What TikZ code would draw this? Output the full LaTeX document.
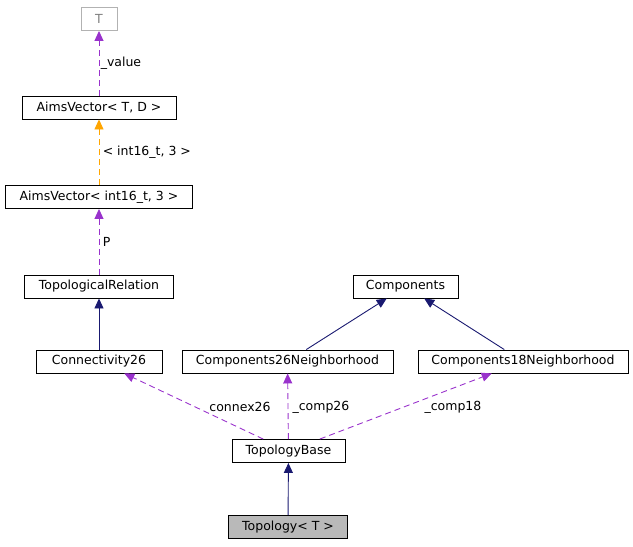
\documentclass[tikz,border=0pt]{standalone}
\usepackage{fontspec}
\setmainfont{DejaVu Sans}
\usetikzlibrary{arrows.meta}
\definecolor{navy}{RGB}{25,25,112}
\definecolor{purp}{RGB}{153,50,204}
\definecolor{orng}{RGB}{255,165,0}
\begin{document}
\begin{tikzpicture}[x=1pt,y=-1pt,line width=0.9pt,
  box/.style={draw=black,fill=white,minimum height=23pt,inner xsep=4pt,font=\fontsize{12.5}{14}\selectfont},
  lbl/.style={font=\fontsize{12.5}{14}\selectfont},
  dsh/.style={dash pattern=on 6pt off 4pt},
  inh/.style={draw=navy,-{Triangle[length=10pt,width=9pt]}},
  use/.style={draw=purp,dsh,-{Triangle[length=10pt,width=9pt]}},
  tpl/.style={draw=orng,dsh,-{Triangle[length=10pt,width=9pt]}}]
\useasboundingbox (0,0) rectangle (633,547);
\node[box,draw=gray!60,text=gray,minimum width=36pt] (T) at (99,19) {T};
\node[box,minimum width=154pt] (AVTD) at (99,107.5) {AimsVector< T, D >};
\node[box,minimum width=187pt] (AVI) at (99,197) {AimsVector< int16\_t, 3 >};
\node[box,minimum width=149pt] (TR) at (99,286.5) {TopologicalRelation};
\node[box,minimum width=105pt] (C) at (405.5,286.5) {Components};
\node[box,minimum width=126pt] (C26) at (99,361.5) {Connectivity26};
\node[box,minimum width=211pt] (CN26) at (287.5,361.5) {Components26Neighborhood};
\node[box,minimum width=210pt] (CN18) at (523,361.5) {Components18Neighborhood};
\node[box,minimum width=113pt] (TB) at (288.5,451) {TopologyBase};
\node[box,fill=gray!55,minimum width=119pt] (TP) at (288,527) {Topology< T >};
\draw[use] (AVTD) -- (T) node[lbl,midway,right,xshift=-2pt] {\_value};
\draw[tpl] (AVI) -- (AVTD) node[lbl,midway,right] {< int16\_t, 3 >};
\draw[use] (TR) -- (AVI) node[lbl,midway,right] {P};
\draw[inh] (C26) -- (TR);
\draw[inh] (CN26) -- (C);
\draw[inh] (CN18) -- (C);
\draw[use] (TB) -- (C26);
\draw[use] (TB) -- (CN26);
\draw[use] (TB) -- (CN18);
\node[lbl] (l1) at (240,407) {connex26};
\node[lbl] (l2) at (321,407) {\_comp26};
\node[lbl] (l3) at (453,407) {\_comp18};
\draw[inh] (TP) -- (TB);
\end{tikzpicture}
\end{document}
